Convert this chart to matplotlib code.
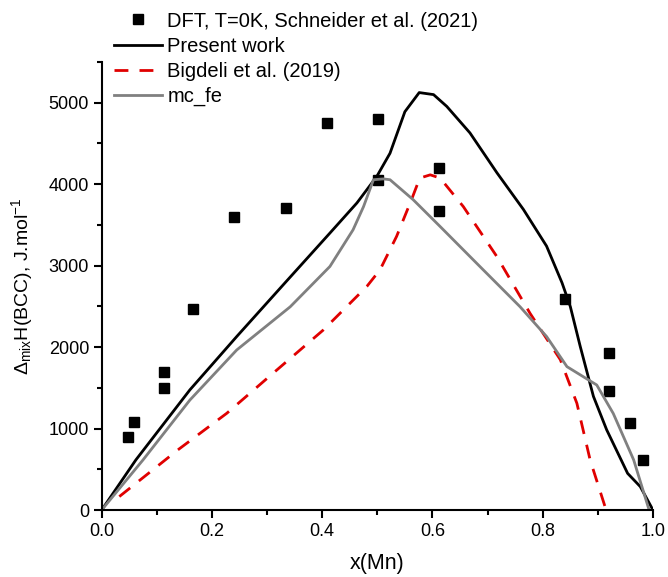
import matplotlib
matplotlib.use("Agg")
import matplotlib.pyplot as plt
from matplotlib.ticker import MultipleLocator

plt.rcParams['font.family'] = ['Liberation Sans', 'DejaVu Sans']
plt.rcParams['mathtext.fontset'] = 'custom'
plt.rcParams['mathtext.rm'] = 'Liberation Sans'
plt.rcParams['mathtext.it'] = 'Liberation Sans'

# DFT points, Schneider et al. (2021)
dft_x = [0.047, 0.059, 0.113, 0.113, 0.166, 0.240, 0.334, 0.409, 0.501, 0.502,
         0.611, 0.612, 0.841, 0.920, 0.920, 0.958, 0.982]
dft_y = [897, 1085, 1695, 1502, 2473, 3600, 3710, 4754, 4800, 4054,
         4198, 3677, 2588, 1932, 1462, 1065, 614]

# Present work
pw_x = [0, 0.062, 0.160, 0.245, 0.334, 0.414, 0.463, 0.499, 0.523, 0.550, 0.576,
        0.602, 0.626, 0.668, 0.717, 0.765, 0.807, 0.835, 0.850, 0.868, 0.892,
        0.916, 0.954, 0.977, 1.0]
pw_y = [0, 615, 1475, 2130, 2800, 3400, 3770, 4095, 4380, 4890, 5125,
        5100, 4955, 4630, 4140, 3690, 3240, 2790, 2500, 2010, 1395,
        985, 450, 287, 0]

# Bigdeli et al. (2019)
bg_x = [0.032, 0.138, 0.227, 0.311, 0.402, 0.481, 0.505, 0.535, 0.562, 0.577,
        0.596, 0.614, 0.656, 0.717, 0.777, 0.832, 0.862, 0.886, 0.915]
bg_y = [165, 737, 1188, 1680, 2210, 2745, 2950, 3360, 3810, 4075,
        4115, 4075, 3725, 3110, 2415, 1845, 1310, 615, 0]

# mc_fe
mc_x = [0, 0.075, 0.160, 0.245, 0.342, 0.414, 0.456, 0.475, 0.493, 0.511, 0.523,
        0.565, 0.614, 0.686, 0.759, 0.807, 0.844, 0.898, 0.928, 0.965, 0.993]
mc_y = [0, 615, 1350, 1965, 2495, 2990, 3440, 3725, 4055, 4065, 4055,
        3810, 3480, 2990, 2495, 2130, 1760, 1535, 1185, 615, 0]

fig = plt.figure(figsize=(6.68, 5.77), dpi=100)
ax = fig.add_axes([0.1522, 0.1161, 0.8253, 0.7764])

ax.plot(dft_x, dft_y, 's', color='black', ms=7, label='DFT, T=0K, Schneider et al. (2021)', clip_on=False)
ax.plot(pw_x, pw_y, '-', color='black', lw=2.0, label='Present work')
ax.plot(bg_x, bg_y, '--', color='#e00000', lw=2.0, dashes=(5, 4), label='Bigdeli et al. (2019)')
ax.plot(mc_x, mc_y, '-', color='#808080', lw=2.0, label='mc_fe')

ax.set_xlim(0, 1.0)
ax.set_ylim(0, 5500)
ax.xaxis.set_major_locator(MultipleLocator(0.2))
ax.xaxis.set_minor_locator(MultipleLocator(0.1))
ax.set_yticks([0, 1000, 2000, 3000, 4000, 5000])
ax.yaxis.set_minor_locator(MultipleLocator(500))
ax.xaxis.set_major_formatter(plt.FormatStrFormatter('%.1f'))

for s in ['top', 'right']:
    ax.spines[s].set_visible(False)
for s in ['left', 'bottom']:
    ax.spines[s].set_linewidth(1.5)
ax.tick_params(which='major', direction='out', length=5.5, width=1.5, labelsize=13)
ax.tick_params(which='minor', direction='out', length=3.5, width=1.5)

ax.set_xlabel('x(Mn)', fontsize=15.5, labelpad=10)
ax.set_ylabel(r'$\Delta_{\mathrm{mix}}$H(BCC), J.mol$^{\mathrm{-1}}$', fontsize=14, labelpad=10)

ax.legend(loc='upper left', bbox_to_anchor=(0.1587, 0.994), bbox_transform=fig.transFigure,
          frameon=False, fontsize=14.5, handlelength=2.4, handletextpad=0.25,
          labelspacing=0.3, borderaxespad=0)

fig.savefig('out.png', dpi=100)
